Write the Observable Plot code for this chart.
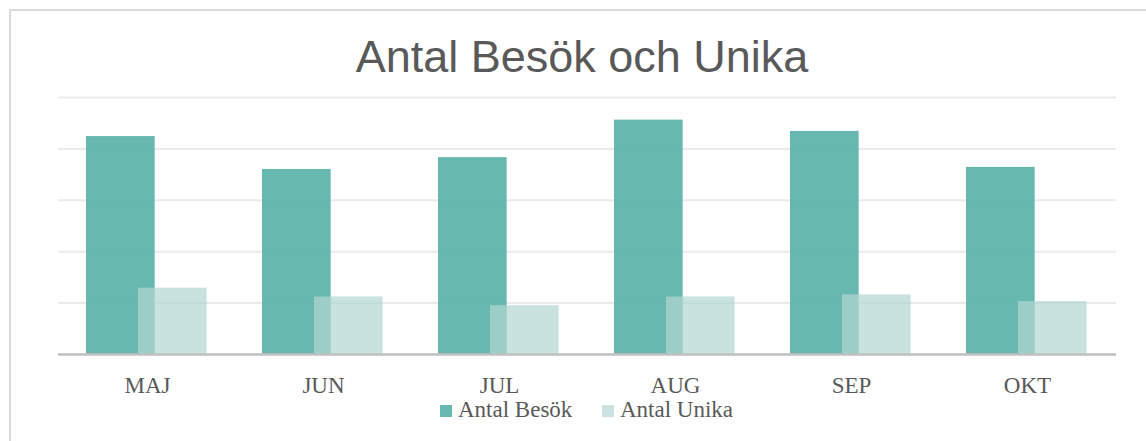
<!DOCTYPE html>
<html>
<head>
<meta charset="utf-8">
<script src="https://cdn.jsdelivr.net/npm/d3@7"></script>
<script src="https://cdn.jsdelivr.net/npm/@observablehq/plot@0.6"></script>
<style>
  html, body { margin: 0; padding: 0; background: #fff; overflow: hidden; }
  #wrap { position: relative; width: 1146px; height: 441px; overflow: hidden; }
  #frame { position: absolute; left: 9px; top: 9px; width: 1200px; height: 500px; border: 2px solid #d9d9d9; box-sizing: border-box; }
  #title { position: absolute; left: 582px; top: 34px; transform: translateX(-50%); white-space: nowrap;
           font-family: "Liberation Sans", Arial, sans-serif; font-size: 45px; line-height: 1; color: #595959; }
  #chart { position: absolute; left: 0; top: 0; }
  #chart svg { background: transparent; }
  .leg { position: absolute; font-family: "Liberation Serif", "Times New Roman", serif; font-size: 23px; line-height: 1; color: #595959; white-space: nowrap; }
  .sw { position: absolute; width: 12px; height: 12px; }
</style>
</head>
<body>
<div id="wrap">
  <div id="frame"></div>
  <div id="chart"></div>
  <div id="title"></div>
  <div id="legend"></div>
</div>
<script>
const titleText = "Antal Besök och Unika";
const months = ["MAJ", "JUN", "JUL", "AUG", "SEP", "OKT"];
const seriesNames = ["Antal Besök", "Antal Unika"];
const besok = [4240, 3600, 3830, 4560, 4340, 3640];
const unika = [1290, 1120, 950, 1120, 1160, 1030];
const gridTicks = [1000, 2000, 3000, 4000, 5000];
const colors = ["rgb(95,180,171)", "rgb(180,213,210)"];

const rowsB = months.map((m, i) => ({month: m, value: besok[i], series: seriesNames[0]}));
const rowsU = months.map((m, i) => ({month: m, value: unika[i], series: seriesNames[1]}));

document.getElementById("title").textContent = titleText;

const bandW = (1146 - 58 - 30) / months.length;

const plot = Plot.plot({
  width: 1146,
  height: 441,
  marginLeft: 58,
  marginRight: 30,
  marginTop: 97,
  marginBottom: 87,
  style: {background: "transparent", overflow: "visible"},
  x: {domain: months, padding: 0, axis: null},
  y: {domain: [0, 5000], axis: null},
  marks: [
    Plot.ruleY(gridTicks, {stroke: "#ebebeb", strokeWidth: 2}),
    Plot.barY(rowsB, {x: "month", y: "value", fill: colors[0], fillOpacity: 0.95, insetLeft: 27, insetRight: bandW - 96}),
    Plot.barY(rowsU, {x: "month", y: "value", fill: colors[1], fillOpacity: 0.7, insetLeft: 79, insetRight: bandW - 148}),
    Plot.ruleY([0], {stroke: "#bfbfbf", strokeWidth: 2.5}),
    Plot.axisX({tickSize: 0, tickPadding: 22, label: null, fontSize: 23,
      fontFamily: "Liberation Serif, Times New Roman, serif", fill: "#595959"})
  ]
});
document.getElementById("chart").appendChild(plot);

// Legend
const legend = document.getElementById("legend");
const legendPos = [{sw: 440, tx: 458}, {sw: 602, tx: 620}];
seriesNames.forEach((name, i) => {
  const sw = document.createElement("div");
  sw.className = "sw";
  sw.style.left = legendPos[i].sw + "px";
  sw.style.top = "405px";
  sw.style.background = i === 0 ? "rgb(103,185,177)" : "rgb(203,226,224)";
  legend.appendChild(sw);
  const t = document.createElement("div");
  t.className = "leg";
  t.style.left = legendPos[i].tx + "px";
  t.style.top = "398px";
  t.textContent = name;
  legend.appendChild(t);
});
</script>
</body>
</html>
